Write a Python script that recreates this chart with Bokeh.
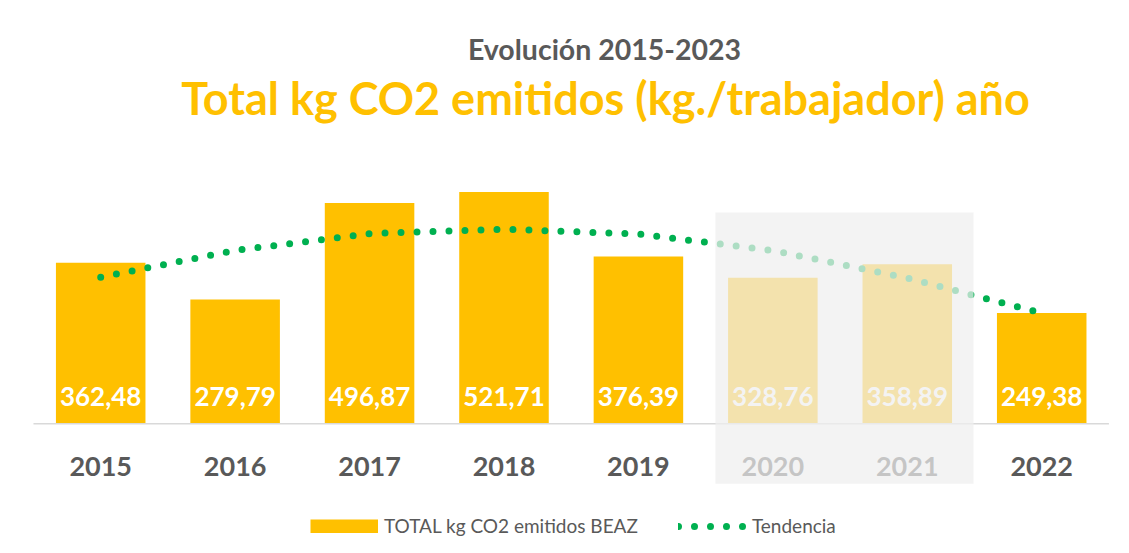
from bokeh.plotting import figure
from bokeh.models import ColumnDataSource, Range1d, Label, Legend, LegendItem
from bokeh.core.properties import value
from bokeh.embed import file_html
from bokeh.resources import INLINE

# ---- data ----
years = ["2015", "2016", "2017", "2018", "2019", "2020", "2021", "2022"]
emissions = [362.48, 279.79, 496.87, 521.71, 376.39, 328.76, 358.89, 249.38]
trend = [330, 390, 428, 438, 427, 390, 328, 249]
highlight_years = ["2020", "2021"]

title_top = "Evolución 2015-2023"
title_main = "Total kg CO2 emitidos (kg./trabajador) año"
series_name = "TOTAL kg CO2 emitidos BEAZ"
trend_name = "Tendencia"

# ---- layout ----
W, H = 1113, 537
step = 134.43      # px per category
x0_px = 100.2      # px of first category centre
ppu = 0.4444       # px per kg
base_px = 113.7    # px of zero line above bottom

FONT = "Lato"
YELLOW = "#FFC000"
GREEN = "#00B050"
GREY_TXT = "#595959"

idx = list(range(len(years)))
labels = [f"{v:.2f}".replace(".", ",") for v in emissions]
src = ColumnDataSource(dict(x=idx, year=years, val=emissions, lab=labels, trend=trend))

p = figure(width=W, height=H, output_backend="svg", toolbar_location=None, tools="",
           x_range=Range1d(-x0_px / step, (W - x0_px) / step),
           y_range=Range1d(-base_px / ppu, (H - base_px) / ppu),
           x_axis_location=None, y_axis_location=None, min_border=0)
p.grid.visible = False
p.outline_line_color = None
p.background_fill_color = "white"
p.border_fill_color = "white"

bars = p.vbar(x="x", top="val", bottom=0, width=0.666, source=src,
              fill_color=YELLOW, line_color=None)

# category axis line
p.segment(x0=[-0.5], x1=[len(years) - 0.5], y0=[0], y1=[0], line_color="#D9D9D9", line_width=1.5)

# value labels inside bars
p.text(x="x", y=0, text="lab", source=src, text_font=value(FONT), text_font_style="bold",
       text_font_size="26px", text_color="white", text_align="center",
       text_baseline="alphabetic", y_offset=-27.5)

# category labels
p.text(x="x", y=0, text="year", source=src, text_font=value(FONT), text_font_style="bold",
       text_font_size="27px", text_color=GREY_TXT, text_align="center",
       text_baseline="alphabetic", y_offset=43)

# trend line (dotted)
trend_r = p.line(x="x", y="trend", source=src, line_color=GREEN, line_width=7,
                 line_dash="0 16", line_cap="round")

# highlight overlay for 2020-2021
i0 = years.index(highlight_years[0])
i1 = years.index(highlight_years[-1])
p.quad(left=[i0 - 0.427], right=[i1 + 0.493], top=[475.5], bottom=[-135],
       fill_color="#EFEFEF", fill_alpha=0.725, line_color=None)

# legend swatch for the bar series (kept outside the visible range)
proxy = p.line(x=[-5, -4], y=[0, 0], line_color=YELLOW, line_width=14, line_cap="butt")

legend = Legend(items=[LegendItem(label=series_name, renderers=[proxy]),
                       LegendItem(label=trend_name, renderers=[trend_r])],
                orientation="horizontal", location=(310, 0),
                glyph_width=68, glyph_height=14, label_standoff=6, spacing=40,
                padding=0, margin=0, border_line_color=None, background_fill_alpha=0,
                label_text_font=FONT, label_text_font_size="19px",
                label_text_color=GREY_TXT, label_height=14)
p.add_layout(legend)

p.add_layout(Label(x=604, y=488.3, x_units="screen", y_units="screen", text=title_top,
                   text_align="center", text_baseline="alphabetic", text_font=FONT,
                   text_font_style="bold", text_font_size="28.5px", text_color=GREY_TXT))
p.add_layout(Label(x=605, y=439.7, x_units="screen", y_units="screen", text=title_main,
                   text_align="center", text_baseline="alphabetic", text_font=FONT,
                   text_font_style="bold", text_font_size="45px", text_color=YELLOW))

open("out.html", "w").write(file_html(p, INLINE))
